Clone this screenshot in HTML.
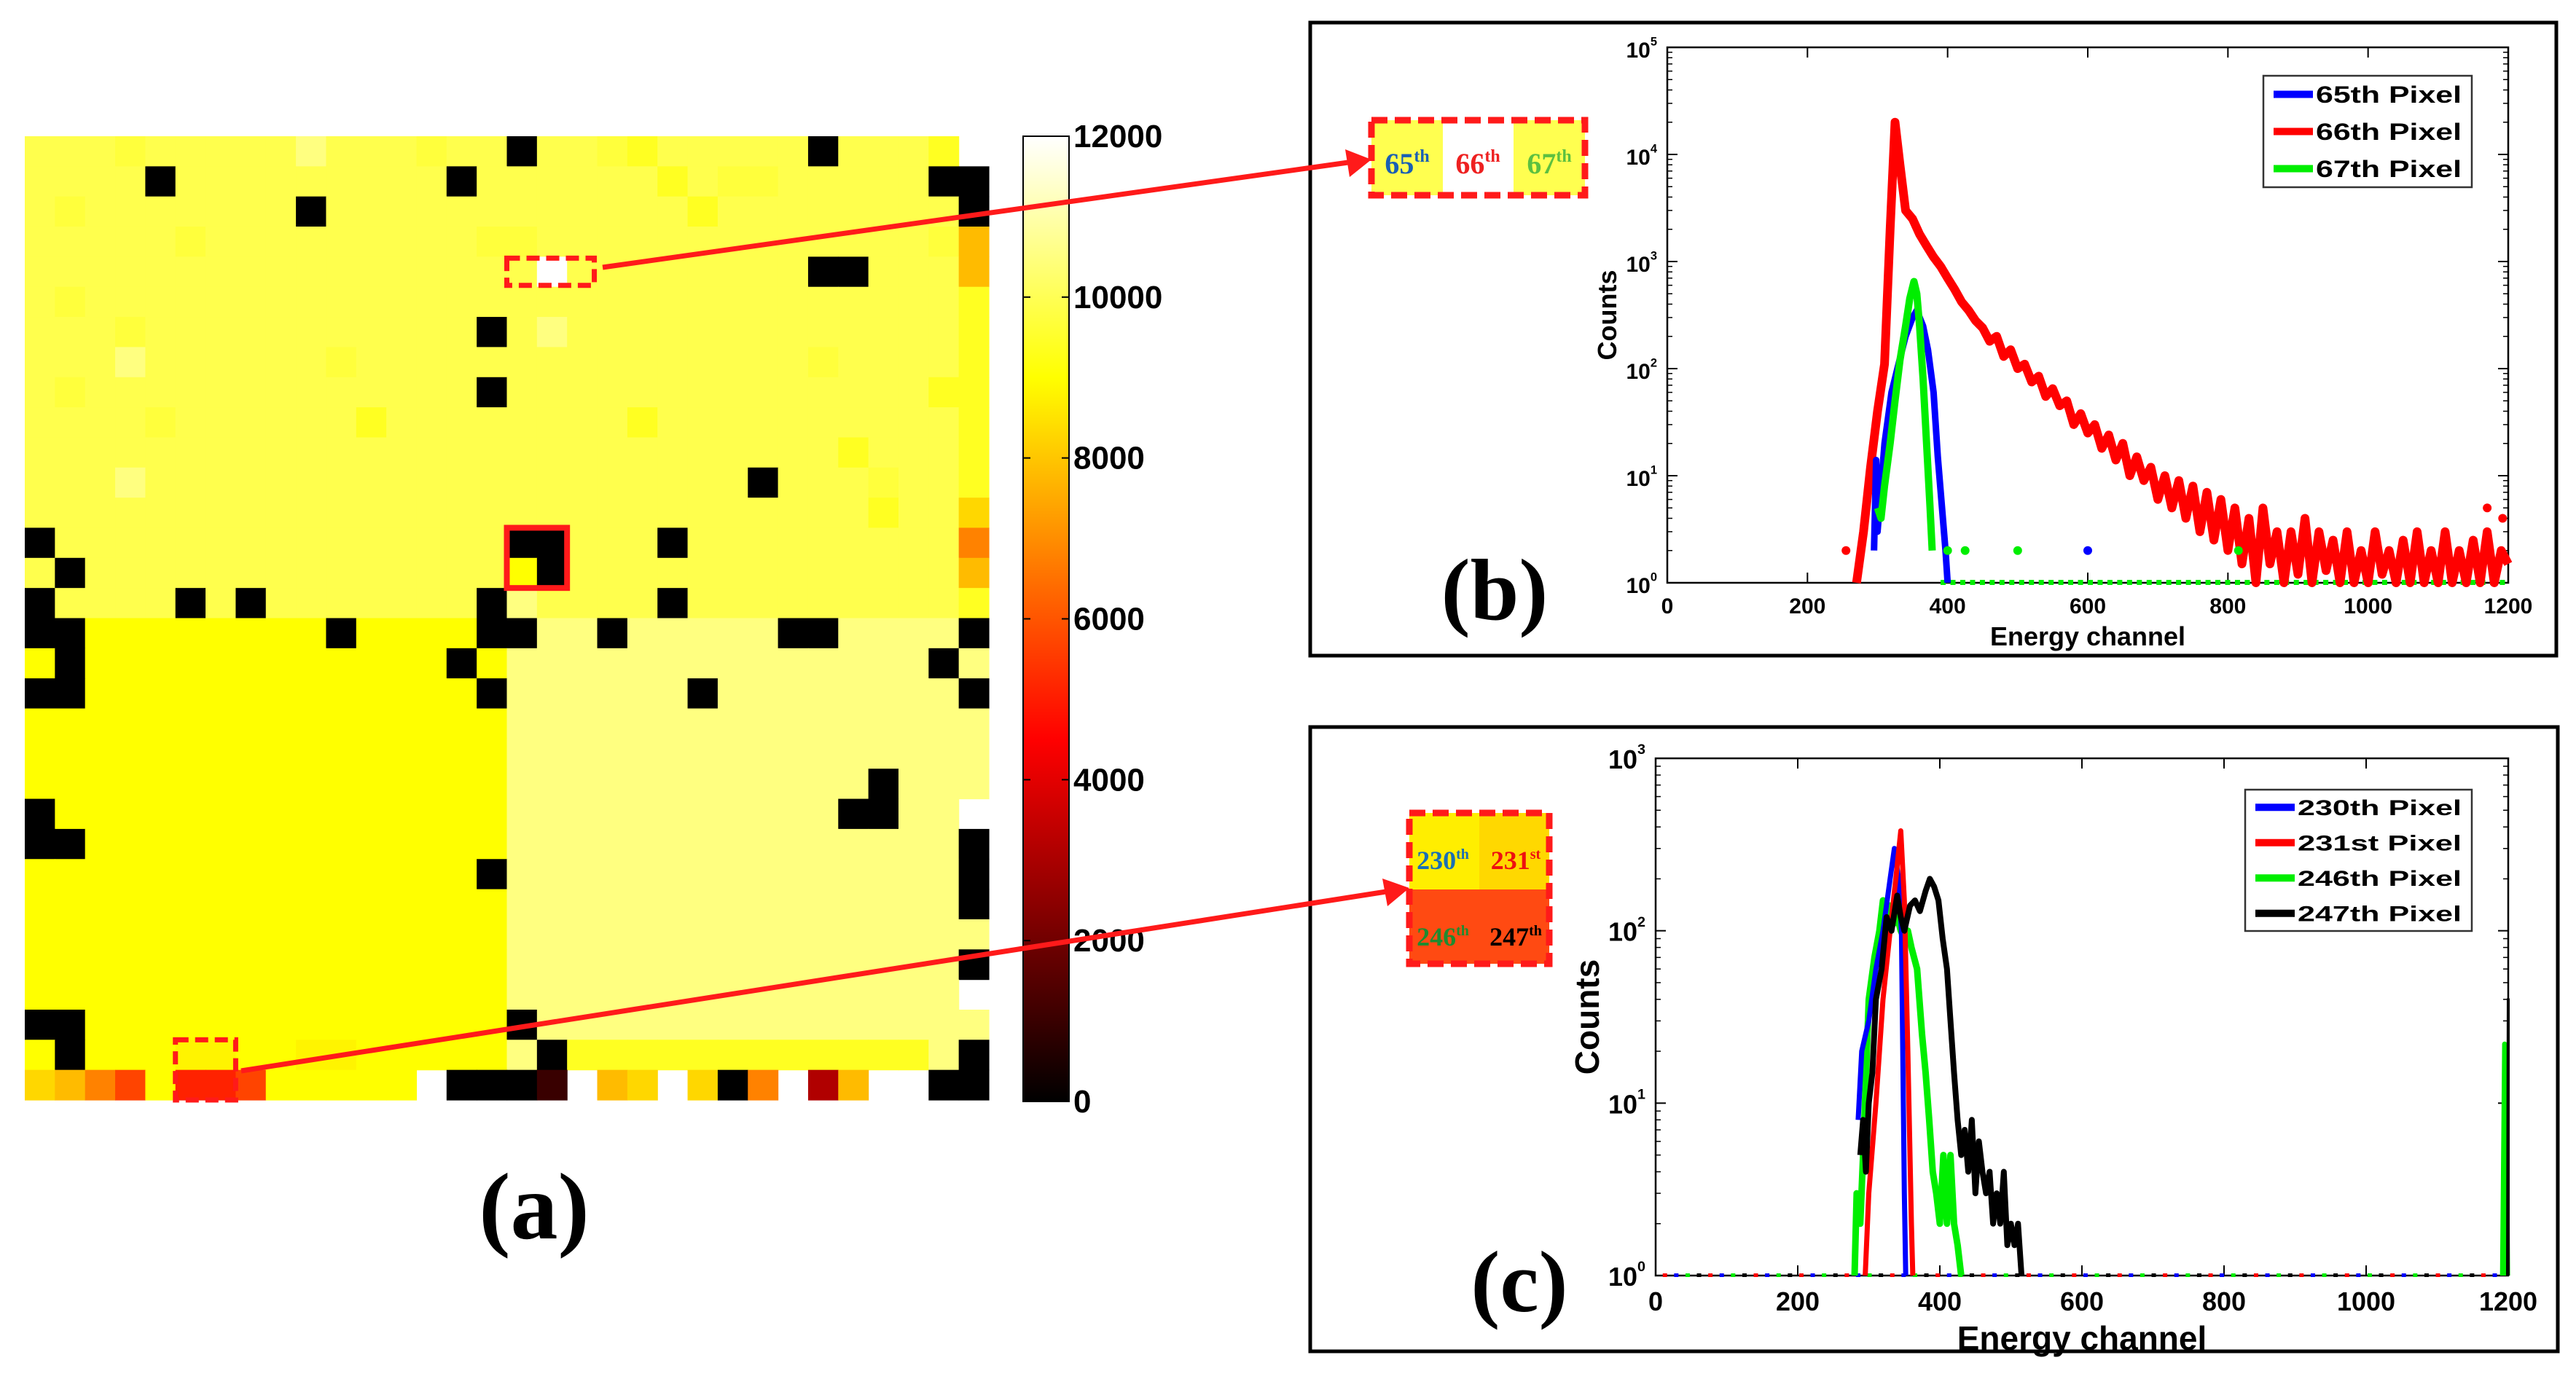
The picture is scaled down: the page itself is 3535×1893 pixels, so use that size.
<!DOCTYPE html>
<html><head><meta charset="utf-8"><style>
html,body{margin:0;padding:0;background:#fff;}
svg{display:block;}
text{font-family:"Liberation Sans",sans-serif;}
.ser{font-family:"Liberation Serif",serif;font-weight:bold;}
</style></head><body>
<svg id="fig" width="3535" height="1893" viewBox="0 0 3535 1893" xmlns="http://www.w3.org/2000/svg">
<g id="heat"></g>
<g id="cbar"></g>
<text class="ser" x="733" y="1700" font-size="130" text-anchor="middle">(a)</text>
<rect x="1798" y="31" width="1710" height="869" fill="none" stroke="#000" stroke-width="5"/>
<rect x="1798" y="998" width="1712" height="857" fill="none" stroke="#000" stroke-width="5"/>
<g id="pb"></g>
<g id="pc"></g>
<text class="ser" x="2051" y="850" font-size="120" text-anchor="middle">(b)</text>
<text class="ser" x="2085" y="1800" font-size="120" text-anchor="middle">(c)</text>
<g>
<rect x="1882" y="165" width="98" height="103" fill="#ffff50"/>
<rect x="1980" y="165" width="97" height="103" fill="#fff"/>
<rect x="2077" y="165" width="98" height="103" fill="#ffff50"/>
<rect x="1882" y="165" width="293" height="103" fill="none" stroke="#ff1a1a" stroke-width="9" stroke-dasharray="22,10"/>
<text class="ser" x="1931" y="238" font-size="40" fill="#1a5fb4" text-anchor="middle">65<tspan font-size="24" dy="-16">th</tspan></text>
<text class="ser" x="2028" y="238" font-size="40" fill="#ee2020" text-anchor="middle">66<tspan font-size="24" dy="-16">th</tspan></text>
<text class="ser" x="2126" y="238" font-size="40" fill="#5cc040" text-anchor="middle">67<tspan font-size="24" dy="-16">th</tspan></text>
</g>
<g>
<rect x="1934" y="1116" width="96" height="105" fill="#ffee00"/>
<rect x="2030" y="1116" width="96" height="105" fill="#ffd800"/>
<rect x="1934" y="1221" width="192" height="102" fill="#ff4a12"/>
<rect x="1934" y="1116" width="192" height="207" fill="none" stroke="#ff1a1a" stroke-width="9" stroke-dasharray="22,10"/>
<text class="ser" x="1980" y="1193" font-size="36" fill="#1a6fb4" text-anchor="middle">230<tspan font-size="20" dy="-14">th</tspan></text>
<text class="ser" x="2080" y="1193" font-size="36" fill="#ee1010" text-anchor="middle">231<tspan font-size="20" dy="-14">st</tspan></text>
<text class="ser" x="1980" y="1298" font-size="36" fill="#208a30" text-anchor="middle">246<tspan font-size="20" dy="-14">th</tspan></text>
<text class="ser" x="2080" y="1298" font-size="36" fill="#000" text-anchor="middle">247<tspan font-size="20" dy="-14">th</tspan></text>
</g>
<g id="marks"></g>
<g>
<line x1="827" y1="367" x2="1850" y2="223" stroke="#ff1a1a" stroke-width="7"/>
<polygon points="1882,219 1846,205 1852,243" fill="#ff1a1a"/>
<line x1="331" y1="1470" x2="1902" y2="1224" stroke="#ff1a1a" stroke-width="7"/>
<polygon points="1934,1219 1897,1206 1904,1244" fill="#ff1a1a"/>
</g>
</svg>
<script>
const heatRows = [
"3332333334333233#3321333" + "33#3331.",
"3333#333333333#333333132" + "233333##",
"323333333#33333333333313" + "3333333#",
"333332333333333223333333" + "3333332e",
"33333333333333333W333333" + "33##333e",
"323333333333333333333333" + "33333331",
"333233333333333#34333333" + "33333331",
"333433333323333333333333" + "33233331",
"323333333333333#33333333" + "33333311",
"333323333331333333331333" + "33333331",
"333333333333333333333333" + "33313331",
"333433333333333333333333" + "#3332331",
"333333333333333333333333" + "3333133g",
"#333333333333333##333#33" + "3333333o",
"3#33333333333333Y#333333" + "3333333e",
"#3333#3#3333333#43333#33" + "33333331",
"##YYYYYYYY#YYYY##44#4444" + "4##4444#",
"Y#YYYYYYYYYYYY#Y44444444" + "444444#4",
"##YYYYYYYYYYYYY#444444#4" + "4444444#",
"YYYYYYYYYYYYYYYY44444444" + "44444444",
"YYYYYYYYYYYYYYYY44444444" + "44444444",
"YYYYYYYYYYYYYYYY44444444" + "4444#444",
"#YYYYYYYYYYYYYYY44444444" + "444##44.",
"##YYYYYYYYYYYYYY44444444" + "4444444#",
"YYYYYYYYYYYYYYY#44444444" + "4444444#",
"YYYYYYYYYYYYYYYY44444444" + "4444444#",
"YYYYYYYYYYYYYYYY44444444" + "44444444",
"YYYYYYYYYYYYYYYY44444444" + "4444444#",
"YYYYYYYYYYYYYYYY44444444" + "4444444.",
"##YYYYYYYYYYYYYY#4444444" + "44444444",
"Y#YYYhhYYhhYYYYY4#111111" + "1111114#",
"georYRRrYYYYY.###x.eg.g#" + "o.De..##"
];
const heatCodes = {'#':0,'Y':9000,'1':9400,'2':9700,'3':9900,'4':10500,'W':12000,'h':8800,'g':8300,'e':7800,'o':6800,'r':5700,'R':5100,'D':3100,'x':1000};
const cbarTicks = [0,2000,4000,6000,8000,10000,12000];

const bTicksX = [0,200,400,600,800,1000,1200];
const bRedCh = [270,280,290,300,310,318,325,332,340,350,360,370,380,390,400,410,420,430,440,450,460,470,480,490,500,510,520,530,540,550,560,570,580,590,600,610,620,630,640,650,660,670,680,690,700,710,720,730,740,750,760,770,780,790,800,810,820,830,840,850,860,870,880,890,900,910,920,930,940,950,960,970,980,990,1000,1010,1020,1030,1040,1050,1060,1070,1080,1090,1100,1110,1120,1130,1140,1150,1160,1170,1180,1190,1200];
const bRedCnt = [1,3,12,40,110,2000,20000,8000,3000,2500,1800,1400,1100,900,700,550,420,350,280,240,180,200,130,150,100,110,75,85,55,65,45,50,30,38,25,30,18,24,14,20,10,15,9,12,6,10,5,9,4,8,3,7,2.5,6,2,5,1.5,4,1,5,1.5,3,1,3,1.2,4,1,3,1.3,2.5,1,3,1,2,1,3,1.2,2,1,2.5,1,3,1,2,1,3,1,2,1,2.5,1,3,1,2,1.5];
const bBlueCh = [295,298,300,310,320,330,340,350,356,365,372,380,386,392,397,400];
const bBlueCnt = [2,14,3,20,60,110,200,300,350,250,150,60,15,5,2,1];
const bGreenCh = [300,305,310,318,325,332,340,346,352,356,360,365,370,375,378];
const bGreenCnt = [5,4,8,20,50,120,250,450,650,500,250,80,20,5,2];
const bDotCh = [255,400,425,500,600,815,1170,1192];
const bDotCnt = [2,2,2,2,2,2,5,4];
const bDotSer = ['red','green','green','green','blue','green','red','red'];

const cTicksX = [0,200,400,600,800,1000,1200];
const cBlueCh = [285,290,300,310,320,330,336,342,346,350,352];
const cBlueCnt = [8,20,30,60,100,200,300,200,100,3,1];
const cRedCh = [295,300,310,320,330,338,345,350,355,360,362];
const cRedCnt = [1,3,10,40,100,200,380,150,20,2,1];
const cGreenCh = [280,283,288,292,300,308,315,320,325,330,335,340,345,350,355,360,368,375,380,385,390,395,400,405,410,415,420,425,430];
const cGreenCnt = [1,3,2,5,40,70,100,150,120,140,110,120,100,90,100,80,60,25,15,8,4,3,2,5,2,5,2,1.5,1];
const cBlackCh = [288,292,296,300,305,310,318,325,332,340,345,350,358,365,372,380,386,392,398,404,410,415,420,425,430,435,440,445,450,455,460,465,470,475,480,485,490,495,500,505,510,515];
const cBlackCnt = [5,8,4,10,15,40,60,120,100,160,120,100,140,150,130,170,200,180,150,90,60,30,15,8,5,7,4,8,3,6,4,3,4,2,3,2,4,1.5,2,1.5,2,1];
const cSpikeCh = [1192,1195,1197,1199];
const cSpikeCnt = [1,22,15,1];
const cBlackSpikeCh = [1199,1200,1200];
const cBlackSpikeCnt = [1,40,1];

const NS = 'http://www.w3.org/2000/svg';
function mk(tag, attrs, parent){const e=document.createElementNS(NS,tag);for(const k in attrs)e.setAttribute(k,attrs[k]);parent.appendChild(e);return e;}
function hot(v){const r=Math.min(1,Math.max(0,v/4500)),g=Math.min(1,Math.max(0,(v-4500)/4500)),b=Math.min(1,Math.max(0,(v-9000)/3000));
 return 'rgb('+Math.round(r*255)+','+Math.round(g*255)+','+Math.round(b*255)+')';}

const HX=34,HY=187,CW=(1357-34)/32,CH=(1510-187)/32;
const heat=document.getElementById('heat');
heatRows.forEach((row,ri)=>{for(let ci=0;ci<32;ci++){const ch=row[ci];if(ch==='.'||ch===undefined)continue;
 const r=mk('rect',{x:(HX+ci*CW).toFixed(2),y:(HY+ri*CH).toFixed(2),width:(CW+0.6).toFixed(2),height:(CH+0.6).toFixed(2),fill:hot(heatCodes[ch])},heat);
 
 }});
const marks=document.getElementById('marks');
mk('rect',{x:HX+16*CW,y:HY+4*CH+2,width:CW*3-4,height:CH-4,fill:'none',stroke:'#ff1a1a','stroke-width':7,'stroke-dasharray':'18,9'},marks);
mk('rect',{x:HX+5*CW,y:HY+30*CH,width:CW*2,height:CH*2,fill:'none',stroke:'#ff1a1a','stroke-width':7,'stroke-dasharray':'18,9'},marks);
mk('rect',{x:HX+16*CW,y:HY+13*CH,width:CW*2,height:CH*2,fill:'none',stroke:'#ff1a1a','stroke-width':8},marks);

const cb=document.getElementById('cbar');
const CBX=1404,CBW=63,CBT=187,CBB=1512;
const grad=mk('linearGradient',{id:'hotg',x1:0,y1:1,x2:0,y2:0},mk('defs',{},cb));
for(let i=0;i<=24;i++){mk('stop',{offset:(i/24),'stop-color':hot(i/24*12000)},grad);}
mk('rect',{x:CBX,y:CBT,width:CBW,height:CBB-CBT,fill:'url(#hotg)',stroke:'#000','stroke-width':2},cb);
const cbY=v=>CBB-(v/12000)*(CBB-CBT);
cbarTicks.forEach(t=>{const y=cbY(t);
 mk('line',{x1:CBX,x2:CBX+10,y1:y,y2:y,stroke:'#000','stroke-width':2},cb);
 mk('line',{x1:CBX+CBW-10,x2:CBX+CBW,y1:y,y2:y,stroke:'#000','stroke-width':2},cb);
 const tx=mk('text',{x:CBX+CBW+6,y:y+15,'font-size':44,'font-weight':'bold'},cb);tx.textContent=t;
 
 });

function logChart(g,o){
 const X=v=>o.x0+(v-o.xmin)/(o.xmax-o.xmin)*(o.x1-o.x0);
 const Y=v=>o.yb-(Math.log10(Math.max(v,1)))/o.dec*(o.yb-o.yt);
 mk('rect',{x:o.x0,y:o.yt,width:o.x1-o.x0,height:o.yb-o.yt,fill:'#fff',stroke:'#000','stroke-width':2.5},g);
 o.ticksX.forEach(t=>{const x=X(t);
  mk('line',{x1:x,x2:x,y1:o.yb,y2:o.yb-14,stroke:'#000','stroke-width':2},g);
  mk('line',{x1:x,x2:x,y1:o.yt,y2:o.yt+14,stroke:'#000','stroke-width':2},g);
  const tx=mk('text',{x:x,y:o.yb+o.fs+12,'font-size':o.fs,'font-weight':'bold','text-anchor':'middle'},g);tx.textContent=t;
  
  });
 for(let d=0;d<=o.dec;d++){const y=Y(Math.pow(10,d));
  mk('line',{x1:o.x0,x2:o.x0+14,y1:y,y2:y,stroke:'#000','stroke-width':2},g);
  mk('line',{x1:o.x1,x2:o.x1-14,y1:y,y2:y,stroke:'#000','stroke-width':2},g);
  const tx=mk('text',{x:o.x0-14,y:y+14,'font-size':o.fs,'font-weight':'bold','text-anchor':'end'},g);
  tx.textContent='10';const sp=mk('tspan',{'font-size':o.fs*0.55,dy:-o.fs*0.55},tx);sp.textContent=d;
  
  
  if(d<o.dec)for(let m=2;m<10;m++){const ym=Y(m*Math.pow(10,d));
   mk('line',{x1:o.x0,x2:o.x0+7,y1:ym,y2:ym,stroke:'#000','stroke-width':1.5},g);
   mk('line',{x1:o.x1,x2:o.x1-7,y1:ym,y2:ym,stroke:'#000','stroke-width':1.5},g);}}
 const xl=mk('text',{x:(o.x0+o.x1)/2,y:o.yb+o.fs+12+o.lfs+8,'font-size':o.lfs,'font-weight':'bold','text-anchor':'middle'},g);xl.textContent='Energy channel';
 
 
 const yl=mk('text',{x:0,y:0,'font-size':o.lfs,'font-weight':'bold','text-anchor':'middle',transform:'translate('+(o.x0-o.ylOff)+','+((o.yt+o.yb)/2)+') rotate(-90)'},g);yl.textContent='Counts';
 
 
 return {X,Y};
}
function series(g,ax,ch,cnt,color,name,w){
 let d='';ch.forEach((c,i)=>{d+=(i?'L':'M')+ax.X(c).toFixed(1)+','+ax.Y(cnt[i]).toFixed(1);});
 const p=mk('path',{d:d,fill:'none',stroke:color,'stroke-width':w,'stroke-linejoin':'round'},g);
 
 
}
function legend(g,x,y,w,h,items,fs){
 mk('rect',{x:x,y:y,width:w,height:h,fill:'#fff',stroke:'#333','stroke-width':2.5},g);
 const step=h/items.length;
 items.forEach((it,i)=>{const cy=y+step*(i+0.5);
  mk('line',{x1:x+14,x2:x+68,y1:cy,y2:cy,stroke:it[1],'stroke-width':10},g);
  const t=mk('text',{x:x+72,y:cy+fs*0.36,'font-size':fs,'font-weight':'bold',textLength:w-86,lengthAdjust:'spacingAndGlyphs'},g);t.textContent=it[0];
  
  });
}
const cols={red:'#ff0000',green:'#00ee00',blue:'#0000ff',black:'#000'};
const pb=document.getElementById('pb');
const axb=logChart(pb,{x0:2288,x1:3442,yt:65,yb:800,xmin:0,xmax:1200,dec:5,ticksX:bTicksX,fs:30,lfs:36,ylOff:70});
for(let c=390;c<=1200;c+=14){mk('rect',{x:axb.X(c),y:axb.Y(1)-4,width:7,height:7,fill:(c%28?'#00ee00':'#0000ff')},pb);}
series(pb,axb,bRedCh,bRedCnt,cols.red,'series-66th-pixel',12);
series(pb,axb,bBlueCh,bBlueCnt,cols.blue,'series-65th-pixel',9);
series(pb,axb,bGreenCh,bGreenCnt,cols.green,'series-67th-pixel',10);
bDotCh.forEach((c,i)=>{const e=mk('circle',{cx:axb.X(c),cy:axb.Y(bDotCnt[i]),r:6,fill:cols[bDotSer[i]]},pb);
 
 });
legend(pb,3106,104,286,153,[['65th Pixel',cols.blue],['66th Pixel',cols.red],['67th Pixel',cols.green]],32);
const pc=document.getElementById('pc');
const axc=logChart(pc,{x0:2272,x1:3442,yt:1041,yb:1751,xmin:0,xmax:1200,dec:3,ticksX:cTicksX,fs:36,lfs:46,ylOff:78});
for(let c=10;c<=1190;c+=16){mk('rect',{x:axc.X(c),y:axc.Y(1)-3,width:6,height:5,fill:['#ff0000','#0000ff','#00ee00','#000'][(c/16|0)%4]},pc);}
series(pc,axc,cGreenCh,cGreenCnt,cols.green,'series-246th-pixel',9);
series(pc,axc,cBlueCh,cBlueCnt,cols.blue,'series-230th-pixel',7);
series(pc,axc,cRedCh,cRedCnt,cols.red,'series-231st-pixel',7);
series(pc,axc,cBlackCh,cBlackCnt,cols.black,'series-247th-pixel',8);
series(pc,axc,cSpikeCh,cSpikeCnt,cols.green,'series-overflow-spike',7);
series(pc,axc,cBlackSpikeCh,cBlackSpikeCnt,cols.black,'series-overflow-spike-black',4);
legend(pc,3081,1084,311,194,[['230th Pixel',cols.blue],['231st Pixel',cols.red],['246th Pixel',cols.green],['247th Pixel',cols.black]],30);
</script>
</body></html>
